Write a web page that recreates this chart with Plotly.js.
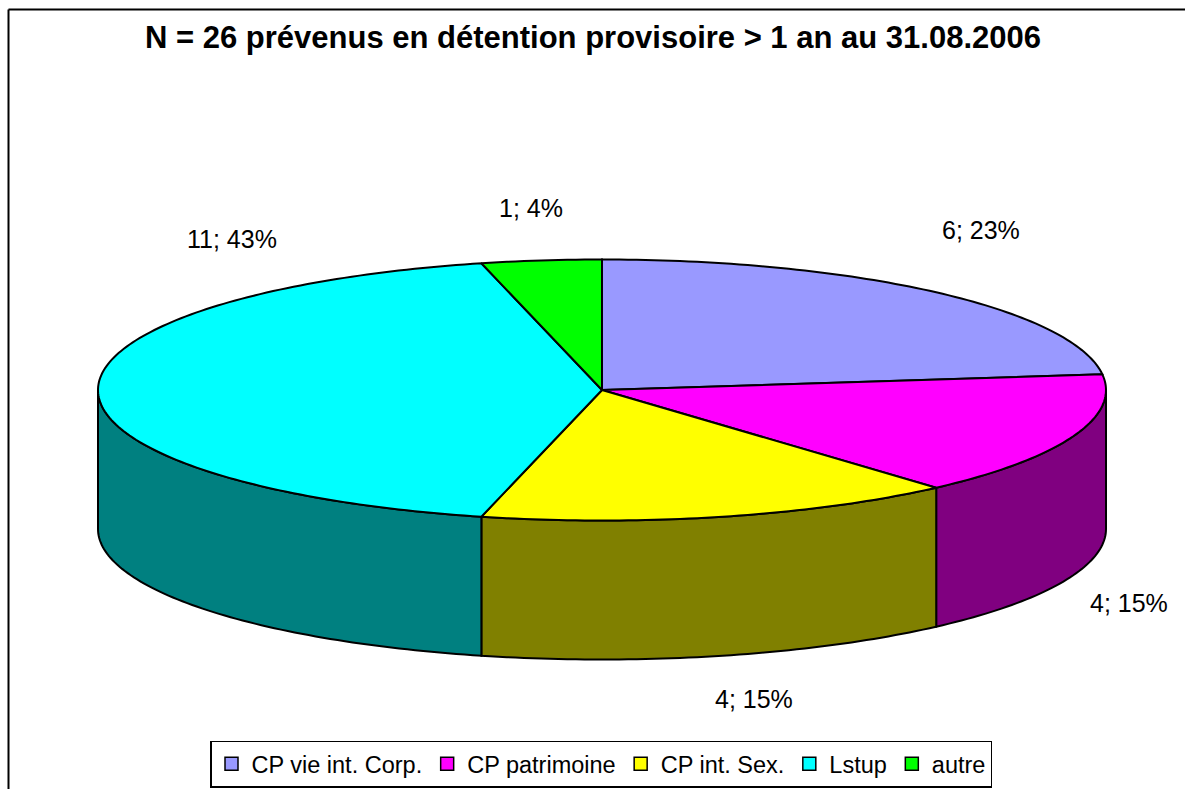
<!DOCTYPE html>
<html>
<head>
<meta charset="utf-8">
<script src="https://cdn.plot.ly/plotly-3.0.1.min.js"></script>
<style>html,body{margin:0;padding:0;background:#fff}#chart{width:1185px;height:789px}</style>
</head>
<body>
<div id="chart"></div>
<script>
var categories = ["CP vie int. Corp.", "CP patrimoine", "CP int. Sex.", "Lstup", "autre"];
var counts = [6, 4, 4, 11, 1];
var dataLabels = ["6; 23%", "4; 15%", "4; 15%", "11; 43%", "1; 4%"];
var topColors = ["#9999FF", "#FF00FF", "#FFFF00", "#00FFFF", "#00FF00"];
var sideColors = ["#4D4D80", "#800080", "#808000", "#008080", "#008000"];
var labelX = [981, 1129, 754, 232, 531];
var labelY = [230, 603, 699, 239, 208];

var CX = 602, CY = 390, RX = 504, RY = 130.5, DEPTH = 139, EDGE = 2;
var FONT = "Liberation Sans, Arial, sans-serif";

function pt(deg, dy) {
  var a = deg * Math.PI / 180;
  return [CX + RX * Math.sin(a), CY - RY * Math.cos(a) + dy];
}
function arc(a, b, dy) {
  var out = [], n = Math.max(2, Math.ceil(Math.abs(b - a)));
  for (var i = 0; i <= n; i++) out.push(pt(a + (b - a) * i / n, dy));
  return out;
}
function poly(points, name, fill) {
  return {
    type: "scatter", mode: "lines", x: points.map(function (p) { return p[0]; }),
    y: points.map(function (p) { return p[1]; }), fill: "toself", fillcolor: fill,
    line: { color: "#000", width: EDGE, simplify: false }, name: name, showlegend: false, hoverinfo: "name"
  };
}

var total = counts.reduce(function (s, v) { return s + v; }, 0);
var sides = [], tops = [], cum = 0;
counts.forEach(function (v, i) {
  var a = cum / total * 360, b = (cum + v) / total * 360;
  cum += v;
  var sa = Math.max(a, 90), sb = Math.min(b, 270);
  if (sb > sa) {
    sides.push(poly(arc(sa, sb, 0).concat(arc(sb, sa, DEPTH)).concat([pt(sa, 0)]), categories[i], sideColors[i]));
  }
  tops.push(poly([[CX, CY]].concat(arc(a, b, 0)).concat([[CX, CY]]), categories[i], topColors[i]));
});

var legendTraces = categories.map(function (c, i) {
  return {
    type: "scatter", mode: "markers", x: [null], y: [null], name: c, showlegend: true,
    marker: { symbol: "square", size: 13, color: topColors[i], line: { color: "#000", width: 1.5 } }
  };
});

var annotations = dataLabels.map(function (t, i) {
  return { x: labelX[i], y: labelY[i], xref: "x", yref: "y", text: t, showarrow: false,
    font: { family: FONT, size: 25, color: "#000" }, xanchor: "center", yanchor: "middle" };
});

var layout = {
  width: 1185, height: 789, margin: { l: 0, r: 0, t: 0, b: 0 },
  paper_bgcolor: "#fff", plot_bgcolor: "#fff",
  title: { text: "N = 26 prévenus en détention provisoire > 1 an au 31.08.2006",
    font: { family: FONT, size: 31, color: "#000", weight: "bold" },
    x: 593 / 1185, xanchor: "center", y: 1 - 37 / 789, yanchor: "middle" },
  xaxis: { range: [0, 1185], visible: false, fixedrange: true },
  yaxis: { range: [789, 0], visible: false, fixedrange: true },
  shapes: [
    { type: "line", xref: "x", yref: "y", x0: 8.5, y0: 9.5, x1: 1185, y1: 9.5, line: { color: "#000", width: 2 }, layer: "below" },
    { type: "line", xref: "x", yref: "y", x0: 8.5, y0: 9.5, x1: 8.5, y1: 789, line: { color: "#000", width: 2 }, layer: "below" }
  ],
  annotations: annotations,
  showlegend: true,
  legend: { orientation: "h", x: 601 / 1185, xanchor: "center", y: 1 - 764 / 789, yanchor: "middle",
    bgcolor: "#fff", bordercolor: "#000", borderwidth: 1.5,
    font: { family: FONT, size: 23.5, color: "#000" }, itemwidth: 30, traceorder: "normal" }
};

Plotly.newPlot("chart", sides.concat(tops).concat(legendTraces), layout, { displayModeBar: false, responsive: false });
</script>
</body>
</html>
